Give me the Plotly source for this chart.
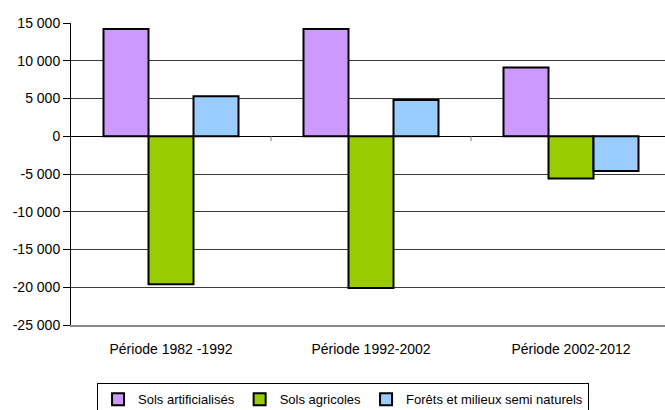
import plotly.graph_objects as go

categories = ["Période 1982 -1992", "Période 1992-2002", "Période 2002-2012"]
series_names = ["Sols artificialisés", "Sols agricoles", "Forêts et milieux semi naturels"]
artificialises = [14200, 14200, 9100]
agricoles = [-19600, -20100, -5600]
forets = [5300, 4800, -4600]
tick_vals = [15000, 10000, 5000, 0, -5000, -10000, -15000, -20000, -25000]
tick_text = ["15 000", "10 000", "5 000", "0", "-5 000", "-10 000", "-15 000", "-20 000", "-25 000"]

colors = ["#CC99FF", "#99CC00", "#99CCFF"]
values = [artificialises, agricoles, forets]

fig = go.Figure()
for name, vals, col in zip(series_names, values, colors):
    fig.add_trace(go.Bar(
        x=categories, y=vals, name=name,
        marker=dict(color=col, line=dict(color="#000000", width=2)),
    ))

# small tick marks on the zero line at category boundaries
for i in range(len(categories) - 1):
    fig.add_shape(type="line", xref="x", yref="y", x0=i + 0.5, x1=i + 0.5,
                  ysizemode="pixel", yanchor=0, y0=0, y1=-5,
                  line=dict(color="#808080", width=1))

fig.update_layout(
    width=665, height=410,
    margin=dict(l=71, r=0, t=23, b=85, autoexpand=False),
    paper_bgcolor="white", plot_bgcolor="white",
    barmode="group", bargap=0.325, bargroupgap=0,
    font=dict(family="Liberation Sans, Arial, sans-serif", size=14, color="#000000"),
    showlegend=True,
    legend=dict(orientation="h", x=0.458, xanchor="center",
                yref="container", y=0.065, yanchor="top",
                bordercolor="#000000", borderwidth=1, font=dict(size=13),
                itemwidth=30, tracegroupgap=0),
    xaxis=dict(range=[-0.5, 2.47], showgrid=False, ticks="outside", ticklen=10,
               tickcolor="rgba(0,0,0,0)", showline=True, linecolor="#8a8a8a",
               linewidth=2, automargin=False,
               tickfont=dict(size=14), fixedrange=True),
    yaxis=dict(range=[-25000, 15000], tickvals=tick_vals, ticktext=tick_text,
               showgrid=True, gridcolor="#3a3a3a", gridwidth=1,
               zeroline=True, zerolinecolor="#000000", zerolinewidth=1,
               showline=True, linecolor="#000000", linewidth=1,
               ticks="outside", ticklen=7, tickcolor="#000000", automargin=False,
               tickfont=dict(size=14), fixedrange=True),
)

fig.write_html("out.html", config={"displayModeBar": False},
               post_script="document.body.style.margin='0';")
